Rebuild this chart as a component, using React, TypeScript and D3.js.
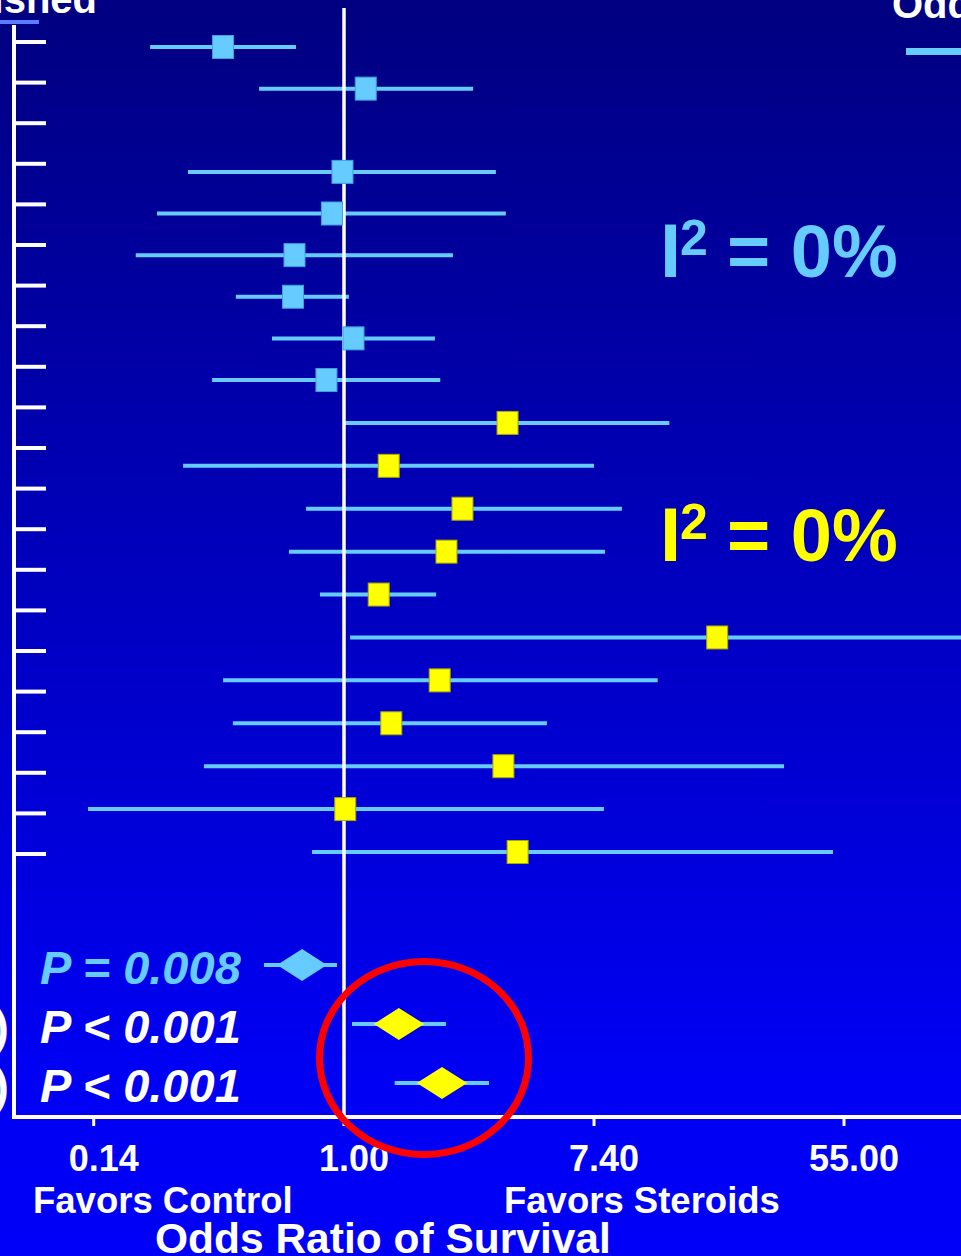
import React, { useLayoutEffect } from "react";
import * as d3 from "d3";

const W = 961;
const H = 1256;

// Individual studies, top to bottom (null = blank row)
const rowGroup = [0, 0, 0, 0, 0, 0, 0, 0, 0, 1, 1, 1, 1, 1, 1, 1, 1, 1, 1, 1];
const rowEstimate = [0.38, 1.19, null, 0.988, 0.908, 0.673, 0.665, 1.079, 0.869, 3.7, 1.43, 2.58, 2.27, 1.32, 19.8, 2.15, 1.46, 3.58, 1.01, 4.01];
const rowLower = [0.212, 0.507, null, 0.287, 0.224, 0.189, 0.421, 0.562, 0.348, 1.008, 0.276, 0.738, 0.644, 0.825, 1.05, 0.38, 0.411, 0.326, 0.129, 0.774];
const rowUpper = [0.681, 2.81, null, 3.37, 3.65, 2.39, 1.04, 2.07, 2.16, 13.5, 7.39, 9.24, 8.07, 2.09, 300, 12.3, 5.07, 33.8, 8.0, 50.0];

// Pooled estimates
const pooledLabel = ["P = 0.008", "P < 0.001", "P < 0.001"];
const pooledGroup = [0, 1, 1];
const pooledEstimate = [0.715, 1.55, 2.19];
const pooledLower = [0.585, 1.27, 1.79];
const pooledUpper = [0.873, 1.9, 2.68];
const pooledPredLower = [0.527, 1.066, 1.5];
const pooledPredUpper = [0.946, 2.26, 3.19];

// Heterogeneity per group
const heterogeneity = ["0%", "0%"];

// Axis
const axisTicks = [0.135, 1, 7.39, 54.6];
const axisTickLabels = ["0.14", "1.00", "7.40", "55.00"];
const leftTickCount = 21;

const groupFill = ["#66ccff", "#ffff00"];
const groupEdge = ["#3f9fe0", "#a8a800"];
const lineColor = "#66ccff";
const FONT = "'Liberation Sans', Arial, Helvetica, sans-serif";

export default function App() {
  useLayoutEffect(() => {
    document.body.style.margin = "0";
  }, []);

  const x = d3.scaleLog().domain([1, 54.6]).range([344, 844]);
  // first group rows sit a little tighter than the second group
  const lastFirst = rowGroup.lastIndexOf(0);
  const y = d3.scaleLinear().domain([0, lastFirst, rowEstimate.length - 1]).range([47, 380, 852]);
  const yTick = d3.scalePoint<number>().domain(d3.range(leftTickCount)).range([42, 854]);
  const yPooled = d3.scalePoint<number>().domain(d3.range(pooledEstimate.length)).range([965, 1083]);

  const axisY = 1117;
  const axisX = 14;
  const sqW = 21;
  const sqH = 23;
  const dHalf = 16;

  const diamond = (i: number) => {
    const cy = yPooled(i)!;
    const p = d3.path();
    p.moveTo(x(pooledLower[i]), cy);
    p.lineTo(x(pooledEstimate[i]), cy - dHalf);
    p.lineTo(x(pooledUpper[i]), cy);
    p.lineTo(x(pooledEstimate[i]), cy + dHalf);
    p.closePath();
    return p.toString();
  };

  const i2Base = [277, 561];

  return (
    <svg width={W} height={H} viewBox={`0 0 ${W} ${H}`} style={{ display: "block" }} fontFamily={FONT}>
      <defs>
        <linearGradient id="bg" x1="0" y1="0" x2="0" y2="1">
          <stop offset="0" stopColor="#000080" />
          <stop offset="0.85" stopColor="#0000f3" />
          <stop offset="1" stopColor="#0000f8" />
        </linearGradient>
      </defs>
      <rect x={0} y={0} width={W} height={H} fill="url(#bg)" />

      {/* heading fragments */}
      <text x={97} y={13} textAnchor="end" fill="#fff" fontWeight="bold" fontSize={40}>Published</text>
      <rect x={0} y={20} width={39} height={4} fill="#5b7cff" />
      <text x={892} y={18} fill="#fff" fontWeight="bold" fontSize={40}>Odds Ratio</text>
      <line x1={906} x2={W} y1={51.5} y2={51.5} stroke={lineColor} strokeWidth={7} />

      {/* left axis with ticks */}
      <line x1={axisX} x2={axisX} y1={25} y2={axisY + 2} stroke="#fff" strokeWidth={4} />
      {d3.range(leftTickCount).map((i) => (
        <line key={`lt${i}`} x1={axisX} x2={46} y1={yTick(i)} y2={yTick(i)} stroke="#fff" strokeWidth={4} />
      ))}

      {/* bottom axis */}
      <line x1={axisX - 2} x2={W} y1={axisY} y2={axisY} stroke="#fff" strokeWidth={4} />
      {axisTicks.map((t, i) => (
        <line key={`bt${i}`} x1={x(t)} x2={x(t)} y1={axisY} y2={axisY + 9} stroke="#fff" strokeWidth={3} />
      ))}
      {axisTicks.map((t, i) => (
        <text key={`bl${i}`} x={x(t) + 10} y={1171} textAnchor="middle" fill="#fff" fontWeight="bold" fontSize={36}>
          {axisTickLabels[i]}
        </text>
      ))}
      <text x={33} y={1213} fill="#fff" fontWeight="bold" fontSize={36.5}>Favors Control</text>
      <text x={504} y={1213} fill="#fff" fontWeight="bold" fontSize={36.5}>Favors Steroids</text>
      <text x={155} y={1253} fill="#fff" fontWeight="bold" fontSize={42.5}>Odds Ratio of Survival</text>

      {/* confidence intervals */}
      {rowEstimate.map((e, i) =>
        e == null ? null : (
          <line key={`ci${i}`} x1={x(rowLower[i]!)} x2={x(rowUpper[i]!)} y1={y(i)} y2={y(i)} stroke={lineColor} strokeWidth={4} />
        )
      )}

      {/* line of no effect */}
      <line x1={x(1)} x2={x(1)} y1={8} y2={axisY} stroke="#fff" strokeWidth={3.5} />

      {/* point estimates */}
      {rowEstimate.map((e, i) =>
        e == null ? null : (
          <rect
            key={`pt${i}`}
            x={x(e) - sqW / 2}
            y={y(i) - sqH / 2}
            width={sqW}
            height={sqH}
            fill={groupFill[rowGroup[i]]}
            stroke={groupEdge[rowGroup[i]]}
            strokeWidth={1}
          />
        )
      )}

      {/* pooled estimates */}
      {pooledEstimate.map((_, i) => (
        <g key={`pool${i}`}>
          <line x1={x(pooledPredLower[i])} x2={x(pooledPredUpper[i])} y1={yPooled(i)} y2={yPooled(i)} stroke={lineColor} strokeWidth={4} />
          <path d={diamond(i)} fill={groupFill[pooledGroup[i]]} />
          <text
            x={40}
            y={yPooled(i)! + 19}
            fill={pooledGroup[i] === 0 ? groupFill[0] : "#fff"}
            fontWeight="bold"
            fontStyle="italic"
            fontSize={47}
          >
            {pooledLabel[i]}
          </text>
        </g>
      ))}
      {[1, 2].map((i) => (
        <text key={`par${i}`} x={9} y={yPooled(i)! + 19} textAnchor="end" fill="#fff" fontWeight="bold" fontSize={47}>)</text>
      ))}

      {/* heterogeneity */}
      {heterogeneity.map((h, g) => (
        <g key={`i2${g}`} fill={groupFill[g]} fontWeight="bold">
          <text x={660} y={i2Base[g]} fontSize={76}>I</text>
          <text x={680} y={i2Base[g] - 22} fontSize={50}>2</text>
          <text x={727} y={i2Base[g]} fontSize={74}>{`= ${h}`}</text>
        </g>
      ))}

      {/* highlight ring */}
      <ellipse cx={424} cy={1058} rx={104.5} ry={96.5} fill="none" stroke="#ff0000" strokeWidth={7} />
    </svg>
  );
}
